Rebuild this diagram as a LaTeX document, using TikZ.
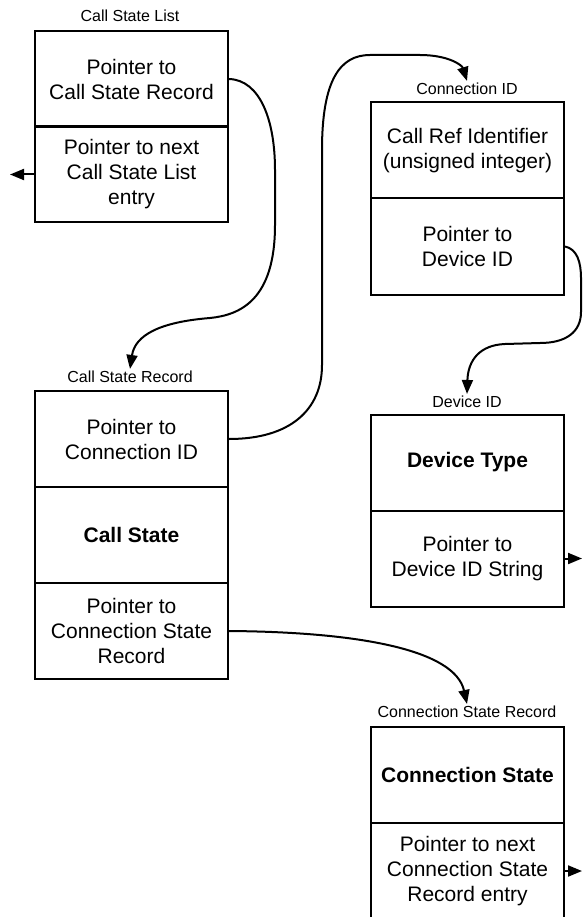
\documentclass[tikz,border=0pt]{standalone}
\usepackage{fontspec}
\setmainfont{Liberation Sans}
\usetikzlibrary{arrows.meta}
\tikzset{
  cell/.style={draw, line width=2pt, minimum width=193pt, minimum height=96pt,
    inner sep=0pt, align=center, font=\fontsize{21}{25}\selectfont},
  boldcell/.style={cell, font=\fontsize{21}{25}\selectfont\bfseries},
  caption/.style={inner sep=2pt, font=\fontsize{16}{19}\selectfont},
  link/.style={line width=2pt, -{Triangle[length=14pt,width=11pt]}},
}
\begin{document}
\begin{tikzpicture}[x=1pt, y=-1pt]
\useasboundingbox (0,0) rectangle (582,917);

% Call State List
\node[caption] (lcsl) at (130,16) {Call State List};
\node[cell] (csl1) at (131.5,79) {Pointer to\\Call State Record};
\node[cell] (csl2) at (131.5,174.5) {Pointer to next\\Call State List\\entry};

% Call State Record
\node[caption] (lcsr) at (130,377) {Call State Record};
\node[cell] (csr1) at (131.5,439) {Pointer to\\Connection ID};
\node[boldcell] (csr2) at (131.5,535) {Call State};
\node[cell] (csr3) at (131.5,631) {Pointer to\\Connection State\\Record};

% Connection ID
\node[caption] (lcid) at (467,89) {Connection ID};
\node[cell] (cid1) at (467.5,150.5) {Call Ref Identifier\\(unsigned integer)};
\node[cell] (cid2) at (467.5,246.5) {Pointer to\\Device ID};

% Device ID
\node[caption] (ldev) at (467,402) {Device ID};
\node[boldcell] (dev1) at (467.5,462.5) {Device Type};
\node[cell] (dev2) at (467.5,558.5) {Pointer to\\Device ID String};

% Connection State Record
\node[caption] (lcsrec) at (467,712) {Connection State Record};
\node[boldcell] (csrec1) at (467.5,775) {Connection State};
\node[cell] (csrec2) at (467.5,871) {Pointer to next\\Connection State\\Record entry};

% free ends of the "next" pointers
\coordinate (cslnext) at (10,174.5);
\coordinate (devstr) at (582,558.5);
\coordinate (csrecnext) at (582,871);

% pointers
\draw[link] (csl1.east) .. controls (260,80) and (275,120) .. (275,170)
  -- (275,225) .. controls (275,300) and (240,315) .. (210,318)
  .. controls (160,322) and (135,335) .. (lcsr.north);
\draw[link] (csr1.east) .. controls (290,439) and (322,410) .. (322,365)
  -- (322,150) .. controls (322,80) and (340,55) .. (370,55)
  -- (420,55) .. controls (448,55) and (462,65) .. (lcid.north);
\draw[link] (cid2.east) .. controls (577,249) and (581,262) .. (581,278)
  -- (581,312) .. controls (581,332) and (566,343) .. (540,343)
  -- (505,344) .. controls (480,345) and (468,360) .. (ldev.north);
\draw[link] (csr3.east) .. controls (360,632) and (455,650) .. (lcsrec.north);
\draw[link] (csl2.west) -- (cslnext);
\draw[link] (dev2.east) -- (devstr);
\draw[link] (csrec2.east) -- (csrecnext);
\end{tikzpicture}
\end{document}
